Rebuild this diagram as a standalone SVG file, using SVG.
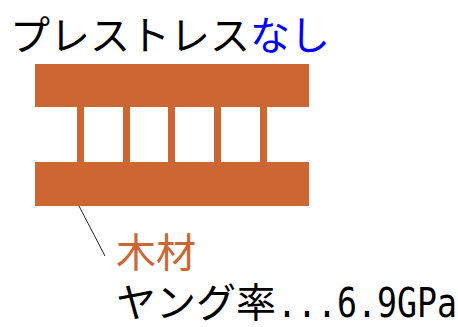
<svg xmlns="http://www.w3.org/2000/svg" width="458" height="327" viewBox="0 0 458 327">
<style>
.wood{fill:#CC6633}
.t{font-family:"Noto Sans CJK JP","DejaVu Sans",sans-serif;font-size:40px}
.m{font-family:"DejaVu Sans Mono",monospace;font-size:40px;fill:#000}
</style>
<rect width="458" height="327" fill="#fff"/>
<g id="title">
<text class="t" x="10" y="50" fill="#000">プレストレス<tspan fill="#0000FF">なし</tspan></text>
</g>
<g id="beam">
<rect class="wood" x="35" y="64" width="274" height="43"/>
<rect class="wood" x="35" y="162" width="274" height="44"/>
<rect class="wood" x="77" y="64" width="7" height="142"/>
<rect class="wood" x="123" y="64" width="7" height="142"/>
<rect class="wood" x="168" y="64" width="7" height="142"/>
<rect class="wood" x="214" y="64" width="7" height="142"/>
<rect class="wood" x="260" y="64" width="7" height="142"/>
</g>
<g id="connectors">
<line x1="79" y1="206" x2="105" y2="256" stroke="#222" stroke-width="1"/>
</g>
<g id="label">
<text class="t" x="116" y="267" fill="#CC6633">木材</text>
<text class="t" x="116" y="317" fill="#000">ヤング率</text>
<text class="m" x="277" y="317" textLength="180" lengthAdjust="spacingAndGlyphs">...6.9GPa</text>
</g>
</svg>
